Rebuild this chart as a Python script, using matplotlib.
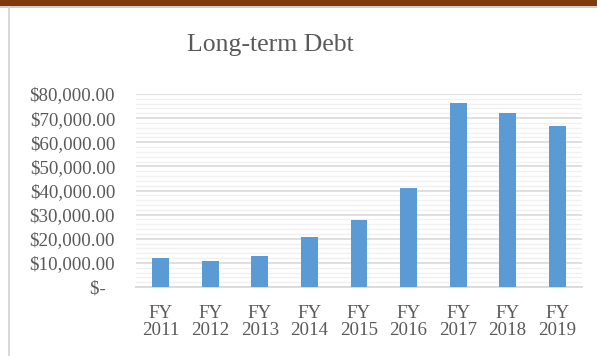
import matplotlib
matplotlib.use("Agg")
import matplotlib.pyplot as plt
from matplotlib.patches import Rectangle
from matplotlib.ticker import MultipleLocator, FuncFormatter

years = ["FY\n2011", "FY\n2012", "FY\n2013", "FY\n2014", "FY\n2015",
         "FY\n2016", "FY\n2017", "FY\n2018", "FY\n2019"]
debt = [11900, 10800, 12850, 20700, 27800, 40900, 76150, 72100, 66600]

plt.rcParams['font.family'] = ['Liberation Serif', 'DejaVu Serif']
txt = '#595959'

fig = plt.figure(figsize=(5.97, 3.56), dpi=100)
fig.patch.set_facecolor('white')
# top brown band and frame lines
fig.patches.append(Rectangle((0, 1 - 6/356), 1, 6/356, transform=fig.transFigure,
                             facecolor='#7f3b0d', edgecolor='none'))
fig.patches.append(Rectangle((0, 1 - 7.5/356), 1, 1.5/356, transform=fig.transFigure,
                             facecolor='#d0d0d0', edgecolor='none'))
fig.patches.append(Rectangle((8/597, 0), 2/597, 1 - 6/356, transform=fig.transFigure,
                             facecolor='#d9d9d9', edgecolor='none'))

ax = fig.add_axes([136/597, (356-287)/356, (582-136)/597, (287-94)/356])
x = list(range(len(years)))
ax.bar(x, debt, width=0.34, color='#5b9bd5', zorder=3)
ax.set_xlim(-0.5, len(years) - 0.5)
ax.set_ylim(0, 80000)
ax.yaxis.set_major_locator(MultipleLocator(10000))
ax.yaxis.set_minor_locator(MultipleLocator(2000))

def fmt(v, pos):
    if v == 0:
        return "$-  "
    return "${:,.2f}".format(v)

ax.yaxis.set_major_formatter(FuncFormatter(fmt))
ax.grid(axis='y', which='major', color='#d9d9d9', linewidth=1.2, zorder=0)
ax.grid(axis='y', which='minor', color='#f0f0f0', linewidth=1.0, zorder=0)
for s in ['top', 'right', 'left']:
    ax.spines[s].set_visible(False)
ax.spines['bottom'].set_color('#d9d9d9')
ax.spines['bottom'].set_linewidth(1.3)
ax.set_xticks(x)
ax.set_xticklabels(years, linespacing=1.0)
ax.tick_params(axis='both', which='both', length=0, labelsize=13.6, colors=txt)
ax.tick_params(axis='y', pad=15)
ax.tick_params(axis='x', pad=13)

fig.text(270/597, 1 - 45/356, "Long-term Debt", ha='center', va='center',
         fontsize=18.5, color=txt)

fig.savefig("out.png", dpi=100, facecolor='white')
